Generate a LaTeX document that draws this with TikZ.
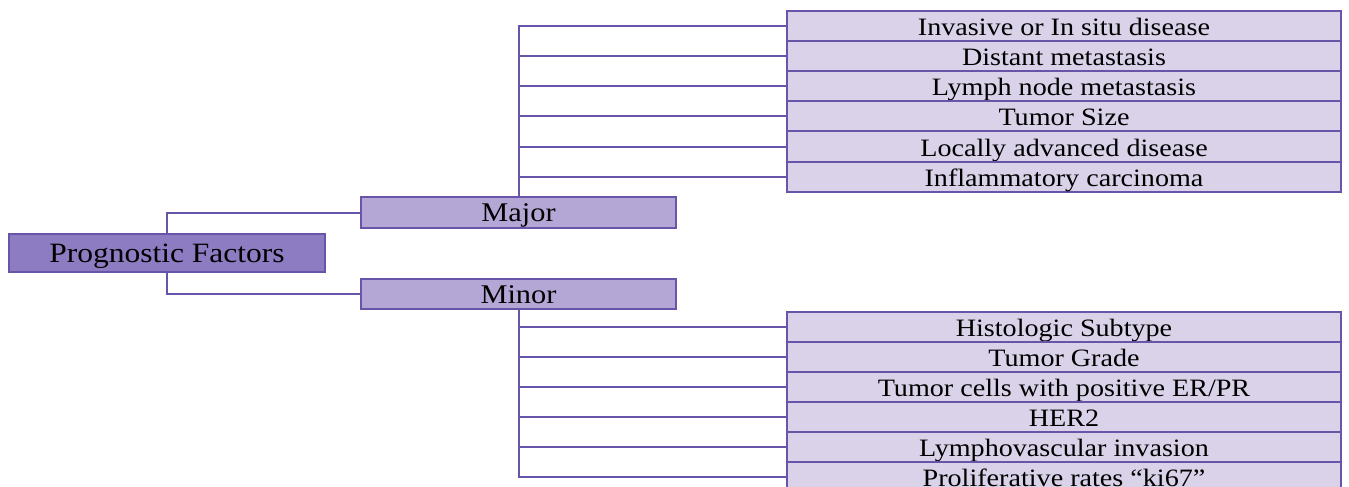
\documentclass[tikz,border=0pt]{standalone}
\usepackage{fontspec}
\setmainfont[FakeStretch=1.125]{Liberation Serif}
\definecolor{lineC}{RGB}{104,84,168}
\definecolor{rootC}{RGB}{142,124,195}
\definecolor{midC}{RGB}{180,167,214}
\definecolor{leafC}{RGB}{217,210,233}
\begin{document}
\begin{tikzpicture}[x=1pt,y=-1pt,
  base/.style={draw=lineC, line width=2pt, inner sep=0pt, outer sep=0pt, text=black, anchor=center, text depth=0pt},
  rootbox/.style={base, fill=rootC, minimum width=316pt, minimum height=38pt, text height=19.4pt, font=\fontsize{28}{30}\selectfont},
  midbox/.style={base, fill=midC, minimum width=315pt, minimum height=31pt, text height=18.4pt, font=\fontsize{27}{29}\selectfont},
  leafbox/.style={base, fill=leafC, minimum width=554pt, minimum height=30.2pt, text height=19.2pt, font=\fontsize{25}{27}\selectfont},
  conn/.style={draw=lineC, line width=2pt}]
\useasboundingbox (0,0) rectangle (1349,487);
\node[rootbox] (pf) at (167,253) {Prognostic Factors};
\node[midbox] (major) at (518.5,212.5) {Major};
\node[midbox, minimum height=30pt] (minor) at (518.5,294) {Minor};
\node[leafbox] (a1) at (1064,25.7) {Invasive or In situ disease};
\node[leafbox] (a2) at (1064,55.9) {Distant metastasis};
\node[leafbox] (a3) at (1064,86.1) {Lymph node metastasis};
\node[leafbox] (a4) at (1064,116.3) {Tumor Size};
\node[leafbox] (a5) at (1064,146.5) {Locally advanced disease};
\node[leafbox] (a6) at (1064,176.7) {Inflammatory carcinoma};
\node[leafbox, minimum height=29.9pt] (b1) at (1064,327.3) {Histologic Subtype};
\node[leafbox, minimum height=29.9pt] (b2) at (1064,357.2) {Tumor Grade};
\node[leafbox, minimum height=29.9pt] (b3) at (1064,387.1) {Tumor cells with positive ER/PR};
\node[leafbox, minimum height=29.9pt] (b4) at (1064,417.0) {HER2};
\node[leafbox, minimum height=29.9pt] (b5) at (1064,446.9) {Lymphovascular invasion};
\node[leafbox, minimum height=29.9pt] (b6) at (1064,476.8) {Proliferative rates “ki67”};
\draw[conn] (pf.north) |- (major.west);
\draw[conn] (pf.south) |- (minor.west);
\foreach \n in {a1,a2,a3,a4,a5,a6} { \draw[conn] (major.north) |- (\n.west); }
\foreach \n in {b1,b2,b3,b4,b5,b6} { \draw[conn] (minor.south) |- (\n.west); }
\end{tikzpicture}
\end{document}
